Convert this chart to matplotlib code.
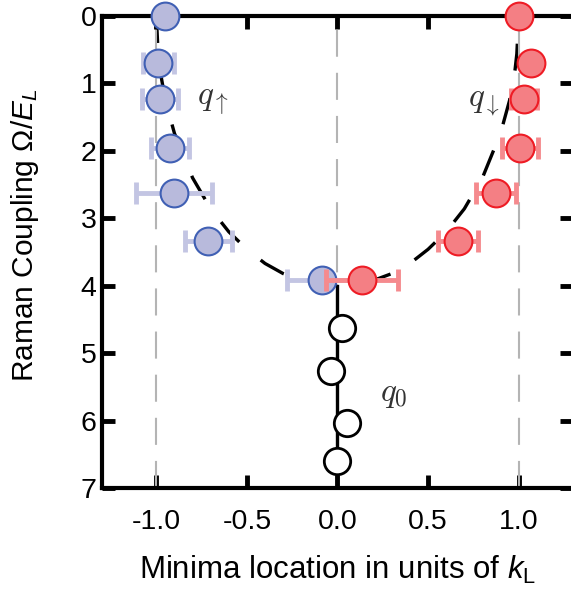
import matplotlib
matplotlib.use('Agg')
import matplotlib.pyplot as plt

plt.rcParams['font.family'] = ['Liberation Sans', 'DejaVu Sans']
plt.rcParams['mathtext.fontset'] = 'custom'
plt.rcParams['mathtext.rm'] = 'Liberation Sans'
plt.rcParams['mathtext.it'] = 'Liberation Sans:italic'
plt.rcParams['axes.unicode_minus'] = False

# measured minima, spin up branch (blue)
omega_up = [0.0, 0.70, 1.23, 1.96, 2.63, 3.34, 3.92]
k_up = [-0.95, -0.99, -0.98, -0.924, -0.90, -0.714, -0.087]
k_up_err = [0.0, 0.086, 0.097, 0.105, 0.21, 0.13, 0.19]

# spin down branch (red)
omega_dn = [0.0, 0.70, 1.23, 1.96, 2.62, 3.34, 3.92]
k_dn = [1.0, 1.07, 1.03, 1.006, 0.873, 0.663, 0.134]
k_dn_err = [0.0, 0.0, 0.07, 0.10, 0.11, 0.11, 0.20]

# single minimum (open circles)
omega_0 = [4.63, 5.27, 6.04, 6.60]
k_0 = [0.025, -0.037, 0.05, 0.0]

# theory curve (right half, mirrored for the left)
theory_k = [0.0, 0.1, 0.2, 0.3, 0.4, 0.5, 0.6, 0.7, 0.8, 0.9, 0.95, 0.98, 0.99, 1.0]
theory_omega = [4.0, 3.98, 3.92, 3.82, 3.67, 3.46, 3.2, 2.86, 2.4, 1.74, 1.25, 0.80, 0.56, 0.0]
single_k = [0.0, 0.0]
single_omega = [4.0, 7.0]

guide_x = [-1.0, 0.0, 1.0]

fig = plt.figure(figsize=(5.71, 6.02), dpi=100)
ax = fig.add_axes([0.1786, 0.1894, 0.8249, 0.784])

curve_k = [-k for k in theory_k[::-1]] + theory_k[1:]
curve_omega = theory_omega[::-1] + theory_omega[1:]
ax.plot(curve_k, curve_omega, color='black', lw=2.4, ls=(0, (8.1, 8.4)), zorder=2)

for xv in guide_x:
    ax.plot([xv, xv], [7, 0], color='#b4b4b4', lw=1.5, ls=(0, (13, 7.7)), zorder=2.2)

ax.plot(single_k, single_omega, color='black', lw=2.4, zorder=2.4)

ax.errorbar(k_up, omega_up, xerr=k_up_err, fmt='none', ecolor='#c3c5e3',
            elinewidth=3.5, capsize=8, capthick=3.5, zorder=4)
ax.plot(k_up, omega_up, 'o', ms=20, mfc='#b8badc', mec='#4060b4', mew=1.5,
        zorder=5, clip_on=False)
ax.errorbar(k_dn, omega_dn, xerr=k_dn_err, fmt='none', ecolor='#f58a8e',
            elinewidth=3.5, capsize=8, capthick=3.5, zorder=6)
ax.plot(k_dn, omega_dn, 'o', ms=20, mfc='#f47f84', mec='#ee1c25', mew=1.5,
        zorder=7, clip_on=False)
ax.plot(k_0, omega_0, 'o', ms=19, mfc='white', mec='black', mew=2,
        zorder=7, clip_on=False)

ax.text(-0.687, 1.28, r'$q_\uparrow$', math_fontfamily='cm', fontsize=24,
        color='#333333', ha='center', va='center')
ax.text(0.81, 1.29, r'$q_\downarrow$', math_fontfamily='cm', fontsize=24,
        color='#333333', ha='center', va='center')
ax.text(0.31, 5.61, r'$q_0$', math_fontfamily='cm', fontsize=24,
        color='#333333', ha='center', va='center')

ax.set_xlim(-1.3, 1.3)
ax.set_ylim(7, 0)
ax.set_xticks([-1.0, -0.5, 0.0, 0.5, 1.0])
ax.set_xticklabels(['-1.0', '-0.5', '0.0', '0.5', '1.0'])
ax.set_yticks(range(8))

for s in ax.spines.values():
    s.set_linewidth(3)
ax.tick_params(direction='in', length=9.5, width=3.5, top=True, right=True,
               labelsize=20.5)
ax.tick_params(axis='x', pad=15)
ax.tick_params(axis='y', pad=4)

ax.set_xlabel(r'Minima location in units of $k_\mathrm{L}$', fontsize=22.5)
ax.xaxis.set_label_coords(0.5, -0.14)
ax.set_ylabel(r'Raman Coupling $\Omega/E_L$', fontsize=21.5)
ax.yaxis.set_label_coords(-0.13, 0.536)

fig.savefig('out.png', dpi=100)
